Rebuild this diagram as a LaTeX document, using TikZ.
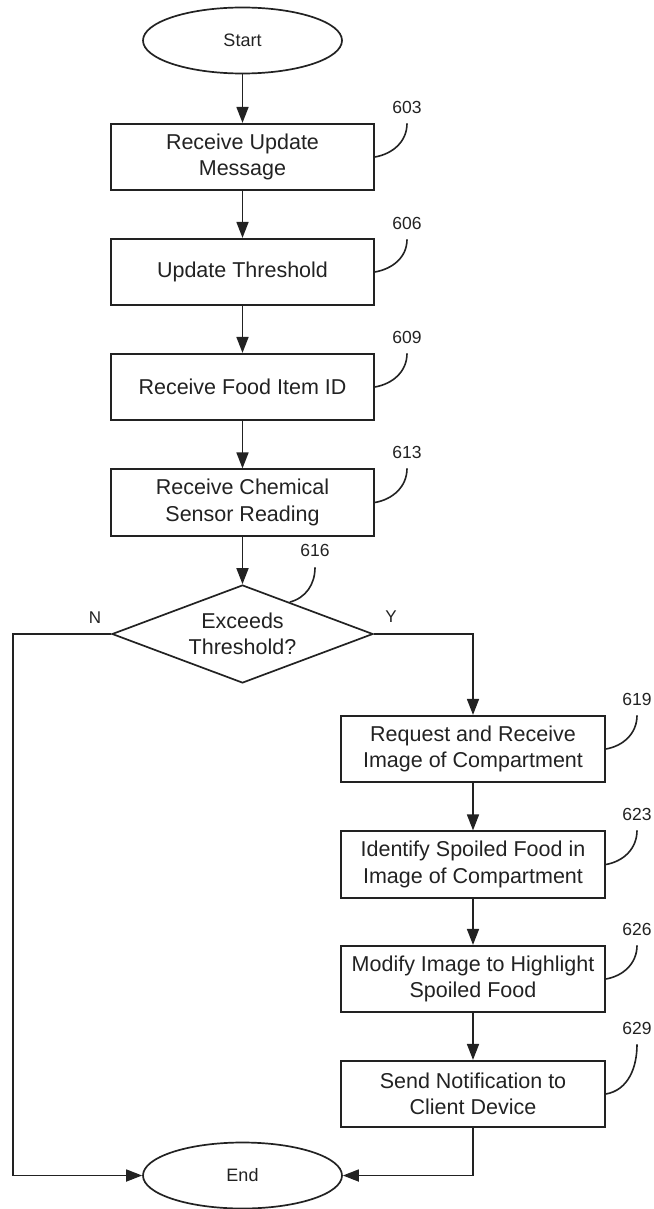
\documentclass[tikz,border=0pt]{standalone}
\usepackage{fontspec}
\setmainfont{Liberation Sans}
\usetikzlibrary{shapes.geometric,arrows.meta,calc}
\definecolor{ink}{HTML}{222222}
\begin{document}
\begin{tikzpicture}[x=1pt,y=-1pt,
  every node/.style={text=ink},
  base/.style={draw=ink, line width=1.7pt, inner sep=0pt, align=center,
    font=\fontsize{21.5}{26.5}\selectfont},
  stepbox/.style={base, rectangle, minimum width=263pt, minimum height=66.5pt},
  terminal/.style={base, ellipse, minimum width=199pt, minimum height=66pt,
    font=\fontsize{18}{22}\selectfont},
  decision/.style={base, diamond, minimum width=261pt, minimum height=98pt},
  flow/.style={draw=ink, line width=1.7pt, -{Triangle[length=16pt,width=12pt]}},
  link/.style={draw=ink, line width=1.6pt},
  refnum/.style={font=\fontsize{17.5}{20}\selectfont, inner sep=0pt},
  branch/.style={font=\fontsize{17}{20}\selectfont, inner sep=0pt}]

\useasboundingbox (0,0) rectangle (653,1209);

% main column
\node[terminal] (start) at (242.5,40.5) {Start};
\node[stepbox] (b603) at (242.5,157) {Receive Update\\Message};
\node[stepbox] (b606) at (242.5,272) {Update Threshold};
\node[stepbox] (b609) at (242.5,387) {Receive Food Item ID};
\node[stepbox] (b613) at (242.5,502.5) {Receive Chemical\\Sensor Reading};
\node[decision] (dec) at (242.5,634) {};
\node[font=\fontsize{21.5}{26.5}\selectfont, align=center, inner sep=0pt]
  (dectext) at (dec.center) {Exceeds\\Threshold?};

% right column
\node[stepbox, minimum width=264pt] (b619) at (473,749) {Request and Receive\\Image of Compartment};
\node[stepbox, minimum width=264pt] (b623) at (473,864.5) {Identify Spoiled Food in\\Image of Compartment};
\node[stepbox, minimum width=264pt] (b626) at (473,979) {Modify Image to Highlight\\Spoiled Food};
\node[stepbox, minimum width=264pt] (b629) at (473,1094) {Send Notification to\\Client Device};

\node[terminal] (end) at (242.5,1175.5) {End};

% reference numerals
\node[refnum] (n603) at (407,107) {603};
\node[refnum] (n606) at (407,223) {606};
\node[refnum] (n609) at (407,337) {609};
\node[refnum] (n613) at (407,452) {613};
\node[refnum] (n616) at (315,550) {616};
\node[refnum] (n619) at (637,699) {619};
\node[refnum] (n623) at (637,814) {623};
\node[refnum] (n626) at (637,929) {626};
\node[refnum] (n629) at (637,1028) {629};

% branch labels
\node[branch] (lblN) at (95,618) {N};
\node[branch] (lblY) at (391,617) {Y};

% flow
\draw[flow] (start) -- (b603);
\draw[flow] (b603) -- (b606);
\draw[flow] (b606) -- (b609);
\draw[flow] (b609) -- (b613);
\draw[flow] (b613) -- (dec.north);
\coordinate (nx) at (13,634);
\draw[flow] (dec.west) -- (nx) |- (end.west);
\draw[flow] (dec.east) -| (b619.north);
\draw[flow] (b619) -- (b623);
\draw[flow] (b623) -- (b626);
\draw[flow] (b626) -- (b629);
\draw[flow] (b629.south) |- (end.east);

% leader lines
\foreach \b/\n in {b603/n603, b606/n606, b609/n609, b613/n613,
                   b619/n619, b623/n623, b626/n626, b629/n629}
  \draw[link] (\b.east) to[out=10,in=-90] ([yshift=-10pt]\n.south);
\draw[link] ($(dec.north)!0.36!(dec.east)$) to[out=15,in=-90] ([yshift=-11pt]n616.south);
\end{tikzpicture}
\end{document}
